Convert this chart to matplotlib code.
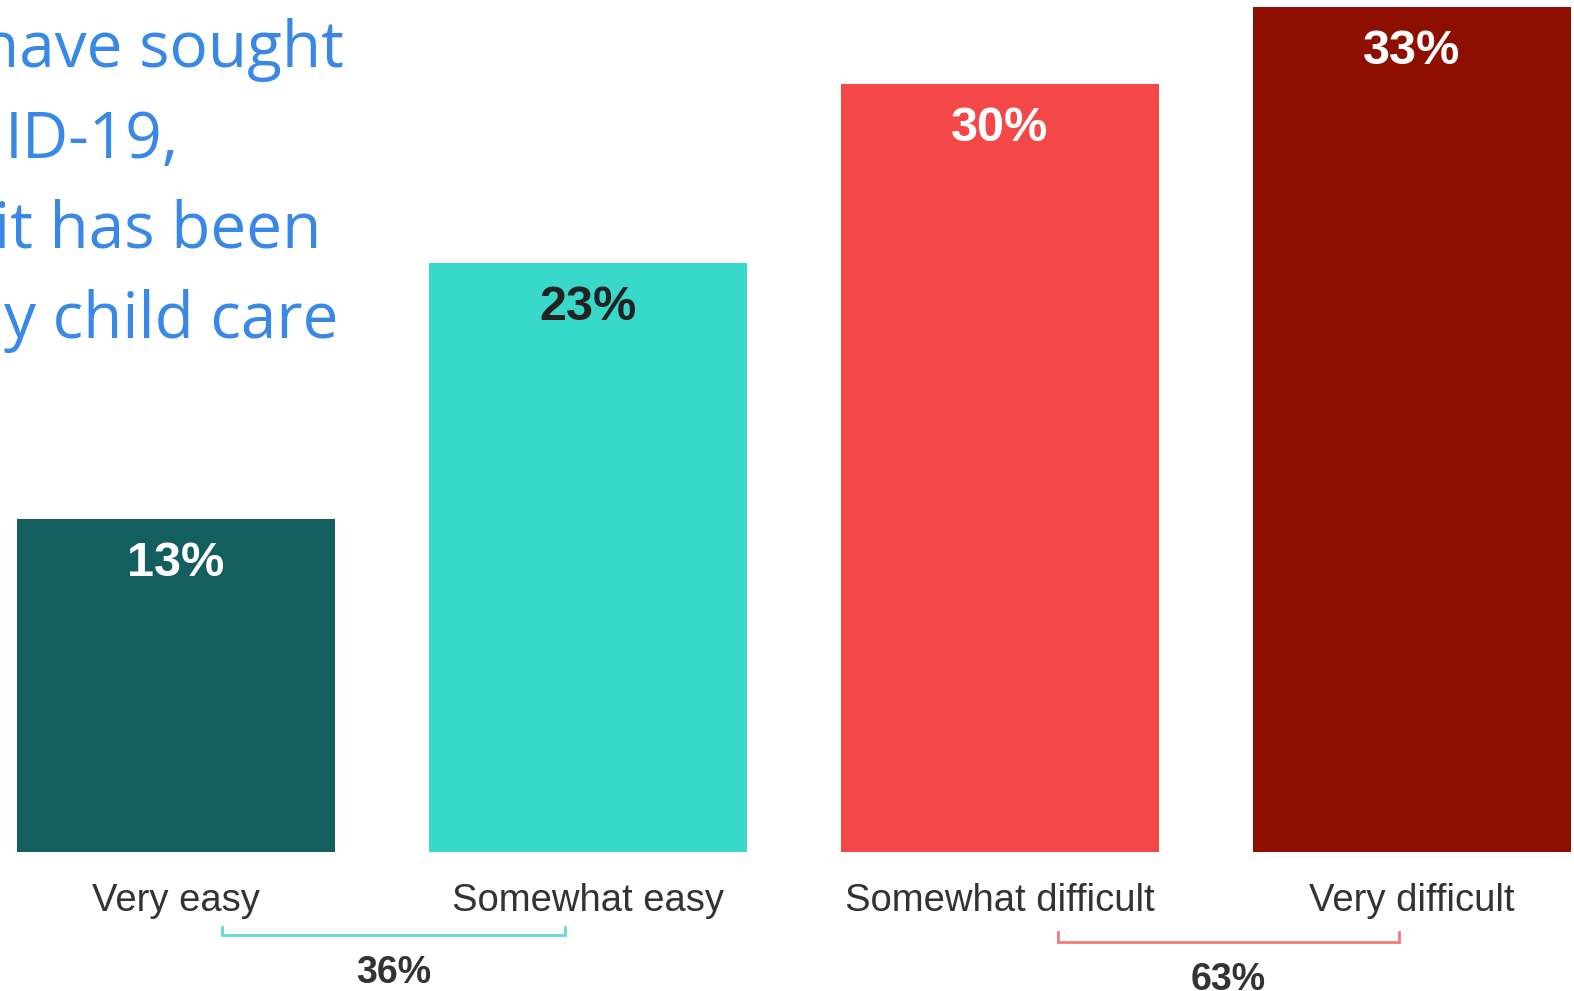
import matplotlib.pyplot as plt

categories = ["Very easy", "Somewhat easy", "Somewhat difficult", "Very difficult"]
values = [13, 23, 30, 33]
bar_colors = ["#135E5E", "#38D8CA", "#F44848", "#8E0E00"]
label_colors = ["white", "#222222", "white", "white"]
title_lines = ["have sought", "ID-19,", "it has been", "y child care"]
easy_total = 36
difficult_total = 63

W, H = 1574, 991
fig = plt.figure(figsize=(W / 100, H / 100), dpi=100)
ax = fig.add_axes([0, 0, 1, 1])

# pixel scale of the reference
px_per_x = 412
px_per_y = 25.6
x0_px = 176
base_px = 852
ax.set_xlim(-x0_px / px_per_x, (W - x0_px) / px_per_x)
ax.set_ylim(-(H - base_px) / px_per_y, base_px / px_per_y)
ax.axis("off")

xs = list(range(len(categories)))
ax.bar(xs, values, width=318 / px_per_x, color=bar_colors)

for x, v, c in zip(xs, values, label_colors):
    ax.text(x, v - 1.75, f"{v}%", ha="center", va="center", color=c,
            fontsize=35, fontweight="bold", family="Liberation Sans")

for x, cat in zip(xs, categories):
    ax.text(x, -1.9, cat, ha="center", va="center", color="#333333",
            fontsize=27.5, family="Liberation Sans")

# brackets for combined totals
def bracket(x1, x2, y, h, color):
    ax.plot([x1, x1, x2, x2], [y + h, y, y, y + h], color=color, lw=2,
            solid_joinstyle="miter", clip_on=False)

bracket(0.111, 0.944, -3.24, 0.31, "#5EDDD3")
bracket(2.141, 2.969, -3.52, 0.39, "#F47A7A")
ax.text((0.111 + 0.944) / 2, -4.72, f"{easy_total}%", ha="center", va="center",
        color="#333333", fontsize=27, fontweight="bold", family="Liberation Sans")
ax.text((2.141 + 2.969) / 2, -5.0, f"{difficult_total}%", ha="center", va="center",
        color="#333333", fontsize=27, fontweight="bold", family="Liberation Sans")

# cropped title text at top left
rights = [344, 179, 321, 338]
baselines = [67, 158, 248, 338]
for line, r, b in zip(title_lines, rights, baselines):
    fig.text(r / W, 1 - b / H, line, ha="right", va="baseline", color="#3A88E5",
             fontsize=46, family="Open Sans")

fig.savefig("out.png", dpi=100)
